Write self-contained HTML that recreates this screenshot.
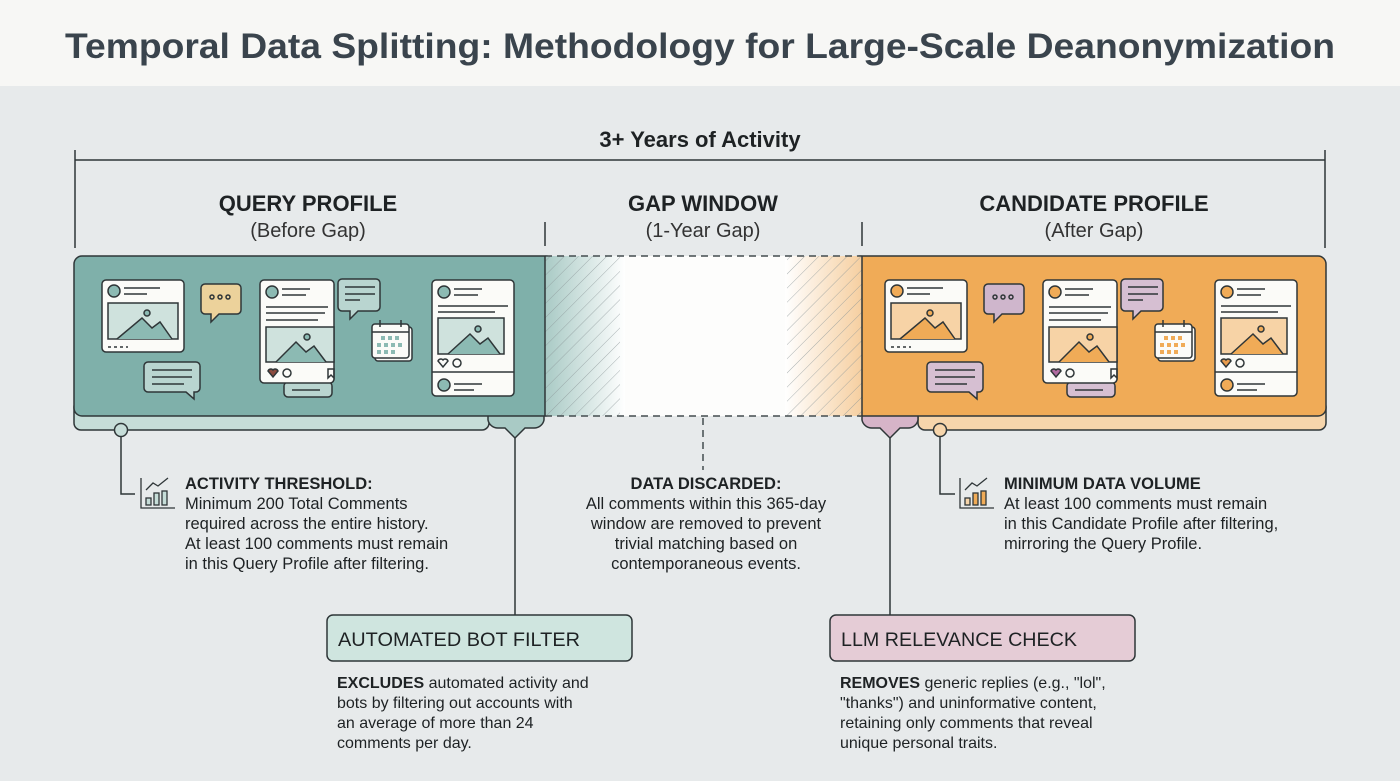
<!DOCTYPE html>
<html><head><meta charset="utf-8"><style>
html,body{margin:0;padding:0;background:#e7eaeb;}
svg{display:block;font-family:"Liberation Sans",sans-serif;}
</style></head><body>
<svg width="1400" height="781" viewBox="0 0 1400 781" xmlns="http://www.w3.org/2000/svg">
<defs>
<pattern id="hatch" width="10" height="10" patternUnits="userSpaceOnUse" patternTransform="rotate(45)">
<line x1="0" y1="0" x2="0" y2="10" stroke="#8a9597" stroke-width="1"/>
</pattern>
<linearGradient id="gl" x1="0" x2="1"><stop offset="0" stop-color="#a9cac5"/><stop offset="1" stop-color="#ffffff"/></linearGradient>
<linearGradient id="gr" x1="0" x2="1"><stop offset="0" stop-color="#ffffff"/><stop offset="1" stop-color="#f6cfa0"/></linearGradient>
<linearGradient id="hl" x1="0" x2="1"><stop offset="0" stop-color="#fff" stop-opacity="0"/><stop offset="0.7" stop-color="#fff" stop-opacity="1"/></linearGradient>
<g id="icons" stroke="#2f3638" stroke-width="1.5">
 <!-- card1 -->
 <rect x="102" y="280" width="82" height="72" rx="4" fill="#fbfbf8"/>
 <circle cx="114" cy="291" r="6" style="fill:var(--c)"/>
 <line x1="124" y1="288" x2="160" y2="288"/><line x1="124" y1="294" x2="147" y2="294"/>
 <rect x="108" y="303" width="70" height="36" style="fill:var(--l)"/>
 <polyline points="117,339 142,318 152,328 160,322 172,339" style="fill:var(--c)"/>
 <circle cx="147" cy="313" r="3" style="fill:var(--c)"/>
 <line x1="108" y1="347" x2="128" y2="347" stroke-dasharray="3 3"/>
 <!-- bubble dots -->
 <path d="M205,284 h32 a4,4 0 0 1 4,4 v22 a4,4 0 0 1 -4,4 h-18 l-8,8 v-8 h-6 a4,4 0 0 1 -4,-4 v-22 a4,4 0 0 1 4,-4z" style="fill:var(--b)"/>
 <circle cx="212" cy="297" r="2" fill="none"/><circle cx="220" cy="297" r="2" fill="none"/><circle cx="228" cy="297" r="2" fill="none"/>
 <!-- bubble bottom -->
 <path d="M148,362 h48 a4,4 0 0 1 4,4 v22 a4,4 0 0 1 -4,4 h-2 v7 l-8,-7 h-38 a4,4 0 0 1 -4,-4 v-22 a4,4 0 0 1 4,-4z" style="fill:var(--s)"/>
 <line x1="152" y1="370" x2="192" y2="370"/><line x1="152" y1="377" x2="192" y2="377"/><line x1="152" y1="384" x2="184" y2="384"/>
 <!-- card2 -->
 <rect x="284" y="382" width="48" height="15" rx="4" style="fill:var(--s)"/>
 <line x1="292" y1="390" x2="320" y2="390"/>
 <rect x="260" y="280" width="74" height="103" rx="4" fill="#fbfbf8"/>
 <circle cx="272" cy="292" r="6" style="fill:var(--c)"/>
 <line x1="282" y1="289" x2="310" y2="289"/><line x1="282" y1="295" x2="306" y2="295"/>
 <line x1="266" y1="307" x2="328" y2="307"/><line x1="266" y1="313" x2="325" y2="313"/><line x1="266" y1="320" x2="318" y2="320"/>
 <rect x="266" y="327" width="68" height="35" style="fill:var(--l)"/>
 <polyline points="276,362 296,342 306,352 314,346 326,362" style="fill:var(--c)"/>
 <circle cx="307" cy="337" r="3" style="fill:var(--c)"/>
 <path d="M268,371 a3,3 0 0 1 5,-1 a3,3 0 0 1 5,1 l-5,6z" style="fill:var(--h)"/>
 <circle cx="287" cy="373" r="4" fill="none"/>
 <path d="M328,369 v9 l3,-3 l3,3 v-9z" fill="none"/>
 <!-- bubble3 -->
 <path d="M342,279 h34 a4,4 0 0 1 4,4 v24 a4,4 0 0 1 -4,4 h-18 l-8,8 v-8 h-8 a4,4 0 0 1 -4,-4 v-24 a4,4 0 0 1 4,-4z" style="fill:var(--s)"/>
 <line x1="345" y1="287" x2="375" y2="287"/><line x1="345" y1="294" x2="375" y2="294"/><line x1="345" y1="300" x2="360" y2="300"/>
 <!-- calendar -->
 <rect x="375" y="327" width="37" height="34" rx="3" fill="#fbfbf8"/>
 <rect x="372" y="324" width="37" height="34" rx="3" fill="#fbfbf8"/>
 <line x1="372" y1="332" x2="409" y2="332"/>
 <line x1="380" y1="320" x2="380" y2="327"/><line x1="401" y1="320" x2="401" y2="327"/>
 <g stroke="none" style="fill:var(--c)">
  <rect x="381" y="336" width="4" height="4"/><rect x="388" y="336" width="4" height="4"/><rect x="395" y="336" width="4" height="4"/>
  <rect x="377" y="343" width="4" height="4"/><rect x="384" y="343" width="4" height="4"/><rect x="391" y="343" width="4" height="4"/><rect x="398" y="343" width="4" height="4"/>
  <rect x="377" y="350" width="4" height="4"/><rect x="384" y="350" width="4" height="4"/><rect x="391" y="350" width="4" height="4"/>
 </g>
 <!-- card3 -->
 <rect x="432" y="280" width="82" height="116" rx="4" fill="#fbfbf8"/>
 <line x1="432" y1="372" x2="514" y2="372"/>
 <circle cx="444" cy="292" r="6" style="fill:var(--c)"/>
 <line x1="454" y1="289" x2="482" y2="289"/><line x1="454" y1="295" x2="478" y2="295"/>
 <line x1="438" y1="306" x2="508" y2="306"/><line x1="438" y1="312" x2="495" y2="312"/>
 <rect x="438" y="318" width="66" height="36" style="fill:var(--l)"/>
 <polyline points="448,354 470,334 480,344 488,338 500,354" style="fill:var(--c)"/>
 <circle cx="478" cy="329" r="3" style="fill:var(--c)"/>
 <path d="M438,361 a3,3 0 0 1 5,-1 a3,3 0 0 1 5,1 l-5,6z" style="fill:var(--h2)"/>
 <circle cx="457" cy="363" r="4" fill="none"/>
 <circle cx="444" cy="385" r="6" style="fill:var(--c)"/>
 <line x1="454" y1="384" x2="482" y2="384"/><line x1="454" y1="390" x2="474" y2="390"/>
</g>
</defs>

<!-- title band -->
<rect x="0" y="0" width="1400" height="86" fill="#f7f7f5"/>
<text x="700" y="58" text-anchor="middle" font-size="35" font-weight="bold" fill="#3a444d" textLength="1270" lengthAdjust="spacingAndGlyphs">Temporal Data Splitting: Methodology for Large-Scale Deanonymization</text>

<!-- top bracket -->
<text x="700" y="147" text-anchor="middle" font-size="22" font-weight="bold" fill="#1e2224">3+ Years of Activity</text>
<g stroke="#2f3638" stroke-width="1.5" fill="none">
<line x1="75" y1="160" x2="1325" y2="160"/>
<line x1="75" y1="150" x2="75" y2="248"/>
<line x1="1325" y1="150" x2="1325" y2="248"/>
<line x1="545" y1="222" x2="545" y2="246"/>
<line x1="862" y1="222" x2="862" y2="246"/>
</g>
<g font-size="22" text-anchor="middle" fill="#1e2224">
<text x="308" y="211" font-weight="bold">QUERY PROFILE</text>
<text x="308" y="237" font-size="20" fill="#333">(Before Gap)</text>
<text x="703" y="211" font-weight="bold">GAP WINDOW</text>
<text x="703" y="237" font-size="20" fill="#333">(1-Year Gap)</text>
<text x="1094" y="211" font-weight="bold">CANDIDATE PROFILE</text>
<text x="1094" y="237" font-size="20" fill="#333">(After Gap)</text>
</g>

<!-- teal bottom strip & tab -->
<rect x="74" y="400" width="415" height="30" rx="7" fill="#c6ddd8" stroke="#2f3638" stroke-width="1.5"/>
<path d="M488,405 v15 a10,10 0 0 0 10,8 h7 l10,10 l10,-10 h9 a10,10 0 0 0 10,-8 v-15z" fill="#a9cac5" stroke="#2f3638" stroke-width="1.5"/>
<!-- orange bottom strip & tab -->
<rect x="918" y="400" width="408" height="30" rx="7" fill="#f6d5ab" stroke="#2f3638" stroke-width="1.5"/>
<path d="M862,405 v15 a10,10 0 0 0 10,8 h8 l10,10 l10,-10 h8 a10,10 0 0 0 10,-8 v-15z" fill="#d6b4c8" stroke="#2f3638" stroke-width="1.5"/>

<!-- teal box -->
<rect x="74" y="256" width="480" height="160" rx="8" fill="#7fb0aa" stroke="#2f3638" stroke-width="1.5"/>
<!-- orange box -->
<rect x="852" y="256" width="474" height="160" rx="8" fill="#f0ab57" stroke="#2f3638" stroke-width="1.5"/>
<!-- gap -->
<rect x="545" y="256" width="317" height="160" fill="#fdfdfc"/>
<rect x="545" y="256" width="80" height="160" fill="url(#gl)"/>
<rect x="785" y="256" width="77" height="160" fill="url(#gr)"/>
<rect x="545" y="256" width="75" height="160" fill="url(#hatch)" opacity="0.7"/>
<rect x="787" y="256" width="75" height="160" fill="url(#hatch)" opacity="0.7"/>
<g stroke="#444c4f" stroke-width="1.5" stroke-dasharray="7 5" fill="none">
<line x1="545" y1="256" x2="862" y2="256"/>
<line x1="545" y1="416" x2="862" y2="416"/>
<line x1="703" y1="418" x2="703" y2="470"/>
</g>
<line x1="545" y1="256" x2="545" y2="416" stroke="#2f3638" stroke-width="1.5"/>
<line x1="862" y1="256" x2="862" y2="416" stroke="#2f3638" stroke-width="1.5"/>

<!-- icons -->
<use href="#icons" style="--c:#8cbab3;--l:#cfe2dd;--b:#ecd29b;--s:#b9d5d0;--h:#8b4a3e;--h2:#fbfbf8"/>
<use href="#icons" transform="translate(783,0)" style="--c:#f0ab57;--l:#f7d3a6;--b:#cfb6cc;--s:#d6bfd2;--h:#b06aa0;--h2:#e89b4c"/>

<!-- connectors -->
<g stroke="#2f3638" stroke-width="1.5" fill="none">
<polyline points="121,436 121,494 135,494"/>
<line x1="515" y1="438" x2="515" y2="615"/>
<line x1="890" y1="438" x2="890" y2="615"/>
<polyline points="940,436 940,494 955,494"/>
</g>
<circle cx="121" cy="430" r="6.5" fill="#c6ddd8" stroke="#2f3638" stroke-width="1.5"/>
<circle cx="940" cy="430" r="6.5" fill="#f6d5ab" stroke="#2f3638" stroke-width="1.5"/>

<!-- chart icons -->
<g stroke="#2f3638" stroke-width="1.3" fill="none">
<polyline points="141,478 141,508 175,508"/>
<polyline points="146,490 153,483 158,486 168,478"/>
<rect x="146" y="498" width="5" height="7" fill="#c6ddd8"/><rect x="154" y="493" width="5" height="12" fill="#c6ddd8"/><rect x="162" y="491" width="5" height="14" fill="#c6ddd8"/>
<polyline points="960,478 960,508 994,508"/>
<polyline points="965,490 972,483 977,486 987,478"/>
<rect x="965" y="498" width="5" height="7" fill="#f6d5ab"/><rect x="973" y="493" width="5" height="12" fill="#f0ab57"/><rect x="981" y="491" width="5" height="14" fill="#f0ab57"/>
</g>

<!-- callout texts -->
<g font-size="16.5" fill="#1e2224">
<text x="185" y="489" font-weight="bold">ACTIVITY THRESHOLD:</text>
<text x="185" y="509">Minimum 200 Total Comments</text>
<text x="185" y="529">required across the entire history.</text>
<text x="185" y="549">At least 100 comments must remain</text>
<text x="185" y="569">in this Query Profile after filtering.</text>

<g text-anchor="middle">
<text x="706" y="489" font-weight="bold">DATA DISCARDED:</text>
<text x="706" y="509">All comments within this 365-day</text>
<text x="706" y="529">window are removed to prevent</text>
<text x="706" y="549">trivial matching based on</text>
<text x="706" y="569">contemporaneous events.</text>
</g>

<text x="1004" y="489" font-weight="bold">MINIMUM DATA VOLUME</text>
<text x="1004" y="509">At least 100 comments must remain</text>
<text x="1004" y="529">in this Candidate Profile after filtering,</text>
<text x="1004" y="549">mirroring the Query Profile.</text>
</g>

<!-- bottom boxes -->
<rect x="327" y="615" width="305" height="46" rx="6" fill="#cfe5df" stroke="#2f3638" stroke-width="1.5"/>
<text x="338" y="646" font-size="19" fill="#1e2224" textLength="242" lengthAdjust="spacingAndGlyphs">AUTOMATED BOT FILTER</text>
<rect x="830" y="615" width="305" height="46" rx="6" fill="#e5ccd6" stroke="#2f3638" stroke-width="1.5"/>
<text x="841" y="646" font-size="19" fill="#1e2224" textLength="236" lengthAdjust="spacingAndGlyphs">LLM RELEVANCE CHECK</text>

<g font-size="16" fill="#1e2224">
<text x="337" y="688"><tspan font-weight="bold">EXCLUDES</tspan> automated activity and</text>
<text x="337" y="708">bots by filtering out accounts with</text>
<text x="337" y="728">an average of more than 24</text>
<text x="337" y="748">comments per day.</text>
<text x="840" y="688"><tspan font-weight="bold">REMOVES</tspan> generic replies (e.g., "lol",</text>
<text x="840" y="708">"thanks") and uninformative content,</text>
<text x="840" y="728">retaining only comments that reveal</text>
<text x="840" y="748">unique personal traits.</text>
</g>
</svg>
</body></html>
